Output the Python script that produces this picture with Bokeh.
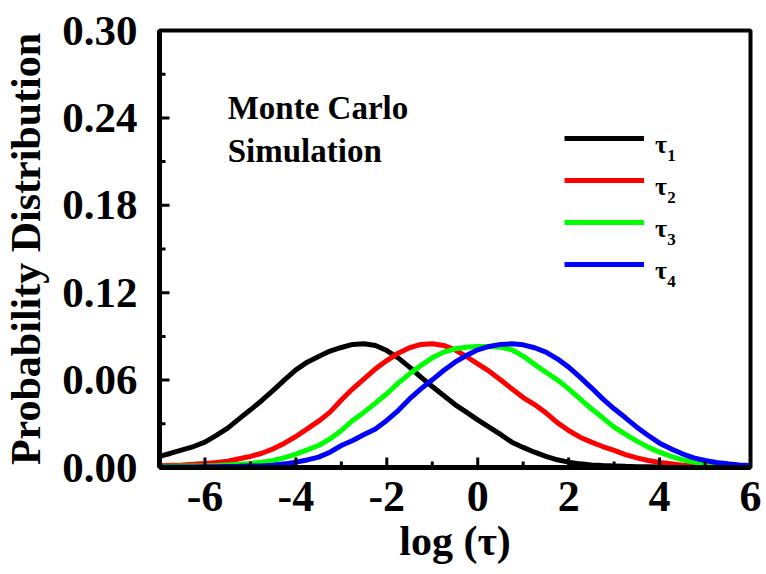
import math
from bokeh.plotting import figure
from bokeh.models import Range1d, FixedTicker, Legend, LegendItem, Label
from bokeh.embed import file_html
from bokeh.resources import INLINE

log_tau = [-7.0, -6.75, -6.5, -6.25, -6.0, -5.75, -5.5, -5.25, -5.0, -4.75, -4.5, -4.25,
           -4.0, -3.75, -3.5, -3.25, -3.0, -2.75, -2.5, -2.25, -2.0, -1.75, -1.5, -1.25,
           -1.0, -0.75, -0.5, -0.25, 0.0, 0.25, 0.5, 0.75, 1.0, 1.25, 1.5, 1.75, 2.0,
           2.25, 2.5, 2.75, 3.0, 3.25, 3.5, 3.75, 4.0, 4.25, 4.5, 4.75, 5.0, 5.25, 5.5,
           5.75, 6.0]

tau1 = [0.0076, 0.0098, 0.0121, 0.0144, 0.0174, 0.022, 0.027, 0.0334, 0.0396, 0.046,
        0.0529, 0.0602, 0.067, 0.0723, 0.0762, 0.0799, 0.0824, 0.0845, 0.0849, 0.0838,
        0.0803, 0.0753, 0.0689, 0.062, 0.0556, 0.0494, 0.0432, 0.038, 0.0327, 0.0277,
        0.0227, 0.0174, 0.0138, 0.0105, 0.0076, 0.0053, 0.0037, 0.0025, 0.0018, 0.0014,
        0.0011, 0.0008, 0.0006, 0.0005, 0.0004, 0.0003, 0.0002, 0.0002, 0.0001, 0.0001,
        0.0, 0.0, 0.0]
tau2 = [0.0014, 0.0016, 0.0018, 0.0022, 0.0027, 0.0034, 0.0043, 0.006, 0.0076, 0.0098,
        0.0128, 0.0167, 0.0213, 0.0265, 0.0318, 0.038, 0.0463, 0.054, 0.0609, 0.0677,
        0.0734, 0.0785, 0.0822, 0.0845, 0.0849, 0.0838, 0.0808, 0.0762, 0.0712, 0.0661,
        0.0602, 0.054, 0.048, 0.0432, 0.0375, 0.0308, 0.0254, 0.0208, 0.0174, 0.0144,
        0.0117, 0.0089, 0.0066, 0.0048, 0.0034, 0.0025, 0.0016, 0.0011, 0.0007, 0.0005,
        0.0004, 0.0003, 0.0002]
tau3 = [0.0008, 0.0009, 0.001, 0.001, 0.0011, 0.0014, 0.0018, 0.0022, 0.0028, 0.0036,
        0.0048, 0.0068, 0.0092, 0.0121, 0.0151, 0.0196, 0.0254, 0.0323, 0.038, 0.0442,
        0.0506, 0.0579, 0.0643, 0.070, 0.0753, 0.0792, 0.0815, 0.0826, 0.0831, 0.0831,
        0.0826, 0.0808, 0.0765, 0.0708, 0.0654, 0.0602, 0.054, 0.0471, 0.0403, 0.0341,
        0.0277, 0.0227, 0.0181, 0.014, 0.0105, 0.0076, 0.0053, 0.0037, 0.0025, 0.0018,
        0.0014, 0.001, 0.0008]
tau4 = [0.0003, 0.0003, 0.0004, 0.0004, 0.0005, 0.0006, 0.0007, 0.0008, 0.001, 0.0011,
        0.0016, 0.0025, 0.0037, 0.0052, 0.0071, 0.0105, 0.0151, 0.0185, 0.0227, 0.0265,
        0.0323, 0.0391, 0.0471, 0.054, 0.0602, 0.0666, 0.0723, 0.0769, 0.0808, 0.0831,
        0.0845, 0.0849, 0.0842, 0.0822, 0.0792, 0.0746, 0.0689, 0.062, 0.0547, 0.0471,
        0.0403, 0.0341, 0.0277, 0.022, 0.0167, 0.0128, 0.0094, 0.0066, 0.0048, 0.0034,
        0.0025, 0.0018, 0.0014]

series = [tau1, tau2, tau3, tau4]
colors = ["#000000", "#ff0000", "#00ff00", "#0000ff"]
legend_symbol = "\u03c4"
subscripts = ["1", "2", "3", "4"]

x_major = [-6, -4, -2, 0, 2, 4, 6]
x_minor = [-7, -5, -3, -1, 1, 3, 5]
y_major = [0.0, 0.06, 0.12, 0.18, 0.24, 0.30]
y_minor = [0.03, 0.09, 0.15, 0.21, 0.27]
y_tick_text = ["0.00", "0.06", "0.12", "0.18", "0.24", "0.30"]

X0, X1, Y0, Y1 = -7, 6, 0, 0.30
FONT = "Liberation Serif"

p = figure(width=766, height=574, output_backend="svg", toolbar_location=None,
           x_range=Range1d(X0, X1), y_range=Range1d(Y0, Y1),
           min_border_left=157, min_border_right=16, min_border_top=30, min_border_bottom=107)
p.background_fill_color = "white"
p.border_fill_color = "white"
p.grid.visible = False
p.outline_line_color = "black"
p.outline_line_width = 4

renderers = []
for ys, c in zip(series, colors):
    r = p.line(log_tau, ys, line_color=c, line_width=5)
    renderers.append(r)

# inward tick marks (drawn as short screen-length rays from the axes)
p.ray(x=x_major, y=[Y0] * len(x_major), length=10, length_units="screen",
      angle=math.pi / 2, line_color="black", line_width=3)
p.ray(x=x_minor, y=[Y0] * len(x_minor), length=6, length_units="screen",
      angle=math.pi / 2, line_color="black", line_width=3)
p.ray(x=[X0] * len(y_major), y=y_major, length=10, length_units="screen",
      angle=0, line_color="black", line_width=3)
p.ray(x=[X0] * len(y_minor), y=y_minor, length=6, length_units="screen",
      angle=0, line_color="black", line_width=3)

for ax in (p.xaxis[0], p.yaxis[0]):
    ax.axis_line_width = 5
    ax.axis_line_color = "black"
    ax.major_tick_in = 0
    ax.major_tick_out = 0
    ax.minor_tick_in = 0
    ax.minor_tick_out = 0
    ax.major_label_text_font = FONT
    ax.major_label_text_font_style = "bold"
    ax.axis_label_text_font = FONT
    ax.axis_label_text_font_style = "bold"
    ax.axis_label_text_font_size = "42px"
    ax.axis_label_text_color = "black"
    ax.major_label_text_color = "black"

p.xaxis[0].ticker = FixedTicker(ticks=x_major, minor_ticks=[])
p.yaxis[0].ticker = FixedTicker(ticks=y_major, minor_ticks=[])
p.xaxis[0].major_label_overrides = {v: str(v) for v in x_major}
p.yaxis[0].major_label_overrides = {v: t for v, t in zip(y_major, y_tick_text)}
p.xaxis[0].major_label_text_font_size = "44px"
p.yaxis[0].major_label_text_font_size = "43px"
p.xaxis[0].major_label_standoff = 14
p.yaxis[0].major_label_standoff = 22
p.xaxis[0].axis_label = "log (\u03c4)"
p.yaxis[0].axis_label = "Probability Distribution"
p.xaxis[0].axis_label_standoff = 4
p.yaxis[0].axis_label_standoff = 10

p.add_layout(Label(x=-5.50, y=0.2465, text="Monte Carlo", text_font=FONT,
                   text_font_style="bold", text_font_size="33px", text_color="black",
                   text_baseline="alphabetic"))
p.add_layout(Label(x=-5.50, y=0.2176, text="Simulation", text_font=FONT,
                   text_font_style="bold", text_font_size="33px", text_color="black",
                   text_baseline="alphabetic"))

items = [LegendItem(label=" ", renderers=[r]) for r in renderers]
legend = Legend(items=items, location=(405, 188), padding=0, margin=0,
                glyph_width=80, glyph_height=30, label_height=30, spacing=12,
                label_standoff=0, label_text_font_size="10px",
                border_line_color=None, background_fill_alpha=0)
p.add_layout(legend)

pitch = 0.02883
for i, s in enumerate(subscripts):
    p.add_layout(Label(x=3.90, y=0.2215 - i * pitch, text=legend_symbol, text_font=FONT,
                       text_font_style="bold", text_font_size="26px", text_color="black",
                       text_baseline="alphabetic"))
    p.add_layout(Label(x=4.17, y=0.2140 - i * pitch, text=s, text_font=FONT,
                       text_font_style="bold", text_font_size="17px", text_color="black",
                       text_baseline="alphabetic"))

open("out.html", "w").write(file_html(p, INLINE))
